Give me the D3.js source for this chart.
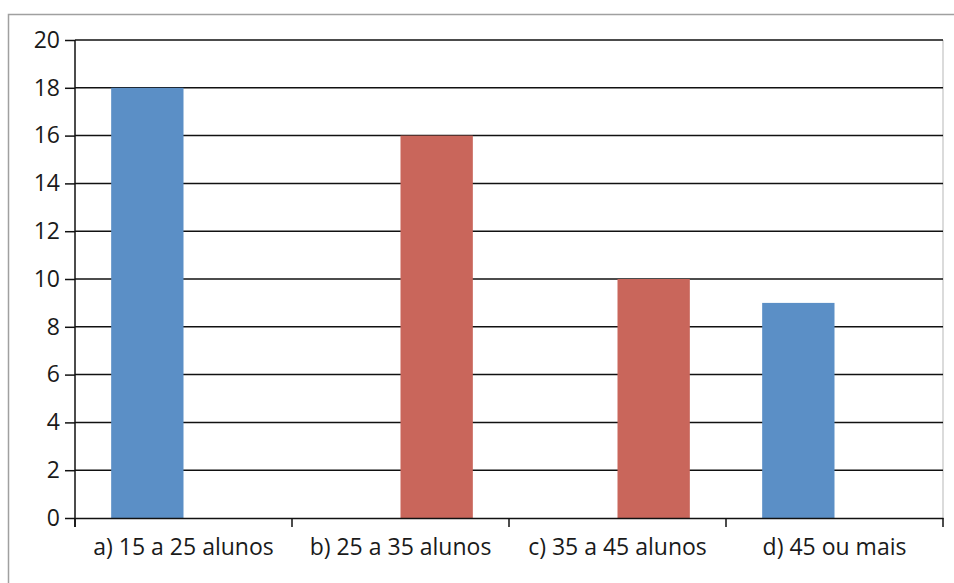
<!DOCTYPE html>
<html>
<head>
<meta charset="utf-8">
<script src="https://cdn.jsdelivr.net/npm/d3@7"></script>
<style>
  html, body { margin: 0; padding: 0; background: #fff; }
  svg { display: block; }
  text { font-family: "Open Sans", Lato, "Liberation Sans", sans-serif; fill: #1a1a1a; }
</style>
</head>
<body>
<svg id="chart" width="954" height="583"></svg>
<script>
// Class-size categories and the two series
const categories = ["a) 15 a 25 alunos", "b) 25 a 35 alunos", "c) 35 a 45 alunos", "d) 45 ou mais"];
const seriesNames = ["s1", "s2"];
const seriesBlue = [18, 0, 0, 9];
const seriesRed = [0, 16, 10, 0];
const yTicks = [0, 2, 4, 6, 8, 10, 12, 14, 16, 18, 20];
const colors = ["#5b8fc6", "#c9665b"];

const svg = d3.select("#chart");
const margin = { left: 75, right: 11, top: 40, bottom: 65 };
const W = 954, H = 583;
const plotW = W - margin.left - margin.right;
const plotH = H - margin.top - margin.bottom;
const fontPx = 23;

// outer chart frame
svg.append("rect")
  .attr("x", 8.5).attr("y", 14.5)
  .attr("width", 960).attr("height", 600)
  .attr("fill", "none").attr("stroke", "#a0a0a0").attr("stroke-width", 1.5);

const g = svg.append("g").attr("transform", `translate(${margin.left},${margin.top})`);

const x0 = d3.scaleBand().domain(categories).range([0, plotW]).paddingInner(0).paddingOuter(0);
const x1 = d3.scaleBand().domain(seriesNames).range([0, x0.bandwidth()]).paddingInner(0).paddingOuter(0.5);
const y = d3.scaleLinear().domain([0, 20]).range([plotH, 0]);

// right plot border
g.append("line")
  .attr("x1", plotW).attr("x2", plotW).attr("y1", 0).attr("y2", plotH)
  .attr("stroke", "#cfcfcf").attr("stroke-width", 1.5);

// horizontal gridlines
g.append("g").selectAll("line")
  .data(yTicks.filter(d => d > 0))
  .join("line")
  .attr("x1", 0).attr("x2", plotW)
  .attr("y1", d => y(d)).attr("y2", d => y(d))
  .attr("stroke", "#111").attr("stroke-width", 1.5);

// bars
const rows = categories.map((c, i) => ({ cat: c, vals: [seriesBlue[i], seriesRed[i]] }));
g.append("g").selectAll("g")
  .data(rows)
  .join("g")
  .attr("transform", d => `translate(${x0(d.cat)},0)`)
  .selectAll("rect")
  .data(d => d.vals.map((v, k) => ({ key: seriesNames[k], v, k })))
  .join("rect")
  .attr("x", d => x1(d.key))
  .attr("width", x1.bandwidth())
  .attr("y", d => y(d.v))
  .attr("height", d => plotH - y(d.v))
  .attr("fill", d => colors[d.k]);

// y axis
const yAxis = g.append("g")
  .call(d3.axisLeft(y).tickValues(yTicks).tickSize(10).tickPadding(5).tickFormat(d3.format("d")));
yAxis.select(".domain").attr("stroke", "#111").attr("stroke-width", 1.5).attr("d", `M0,${plotH + 9}V0`);
yAxis.selectAll(".tick line").attr("stroke", "#111").attr("stroke-width", 1.5);
yAxis.selectAll("text").attr("font-size", fontPx).attr("fill", "#1a1a1a");

// x axis
const xAxis = g.append("g")
  .attr("transform", `translate(0,${plotH})`)
  .call(d3.axisBottom(x0).tickSize(0).tickPadding(21));
xAxis.select(".domain").attr("stroke", "#111").attr("stroke-width", 1.5);
xAxis.selectAll("text").attr("font-size", fontPx).attr("fill", "#1a1a1a");

// tick marks at category boundaries
g.append("g").selectAll("line")
  .data(d3.range(categories.length + 1))
  .join("line")
  .attr("x1", i => i * x0.bandwidth()).attr("x2", i => i * x0.bandwidth())
  .attr("y1", plotH).attr("y2", plotH + 9)
  .attr("stroke", "#111").attr("stroke-width", 1.5);
</script>
</body>
</html>
